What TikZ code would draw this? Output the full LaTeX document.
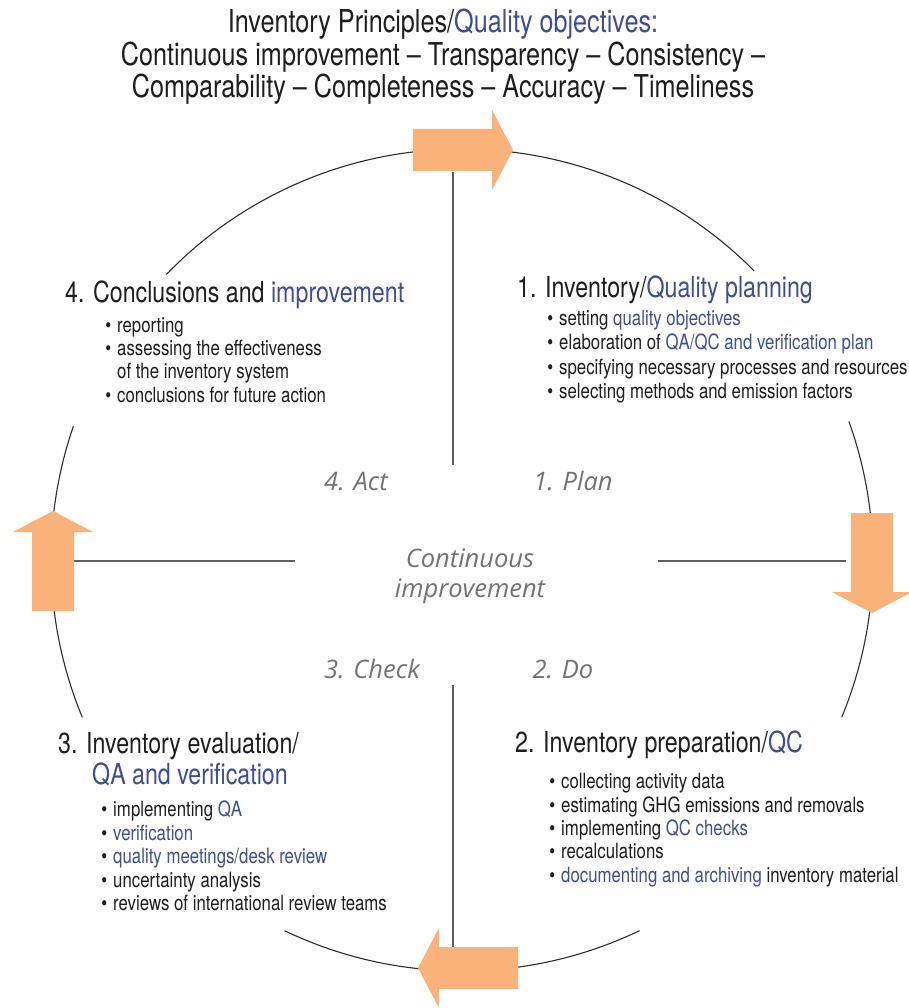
\documentclass[tikz,border=0pt]{standalone}
\usepackage{fontspec}
\setmainfont{TeX Gyre Heros}[FakeStretch=0.8]
\newfontfamily\stagefont{Open Sans}
\usetikzlibrary{positioning}

\definecolor{qblue}{RGB}{62,78,150}
\definecolor{ink}{RGB}{30,30,30}
\definecolor{stagegray}{RGB}{115,115,115}
\definecolor{arroworange}{RGB}{249,178,122}
\definecolor{ringgray}{RGB}{45,45,45}
\definecolor{crossgray}{RGB}{95,95,95}

\newcommand{\hl}[1]{{\color{qblue}#1}}
\newcommand{\bul}{\llap{\textbullet\hspace{6pt}}}

\begin{document}
\begin{tikzpicture}[
  x=1pt, y=1pt,
  title/.style={font=\fontsize{31.5}{32.5}\selectfont, text=ink, align=center, inner sep=0pt},
  heading/.style={font=\fontsize{29}{31}\selectfont, text=ink, anchor=base west, inner sep=0pt},
  item/.style={font=\fontsize{21}{24}\selectfont, text=ink, anchor=base west, inner sep=0pt},
  stage/.style={font=\stagefont\itshape\fontsize{25.5}{30}\selectfont, text=stagegray, inner sep=0pt},
  ring/.style={draw=ringgray, line width=1.1pt},
  cross/.style={draw=crossgray, line width=1.2pt},
  cyclearrow/.style={fill=arroworange}
]
\fill[white] (0,0) rectangle (909,-1008);
\useasboundingbox (0,0) rectangle (909,-1008);
\coordinate (c) at (462,-560);

% circle, broken where the texts sit
\foreach \a/\b in {44.7/136, 161/202.5, 244.4/295.6, -22.5/19.7}
  \draw[ring] (c) ++(\a:411) arc[start angle=\a, end angle=\b, radius=411];

% cross
\draw[cross] (453,-172) -- (453,-465);
\draw[cross] (453,-685) -- (453,-947);
\draw[cross] (74,-561) -- (295,-561);
\draw[cross] (658,-561) -- (846,-561);

% arrows on the circle
\foreach \tx/\ty/\rot in {513/150/0, 872/613/-90, 418/968/180, 53/511/90}
  \fill[cyclearrow, shift={(\tx,-\ty)}, rotate=\rot]
    (-100,-21) -- (-21,-21) -- (-21,-40) -- (0,0) -- (-21,40) -- (-21,21) -- (-100,21) -- cycle;

% title
\node[title] (principles) at (443,-57)
  {Inventory Principles/\hl{Quality objectives:}\\
   Continuous improvement -- Transparency -- Consistency --\\
   Comparability -- Completeness -- Accuracy -- Timeliness};

% 1. plan
\node[heading] (plan) at (517,-297) {1. Inventory/\hl{Quality planning}};
\foreach \y/\txt [count=\i] in {325/{\bul setting \hl{quality objectives}},
    349/{\bul elaboration of \hl{QA/QC and verification plan}},
    374/{\bul specifying necessary processes and resources},
    398/{\bul selecting methods and emission factors}}
  \node[item] (plan-\i) at (559,-\y) {\txt};

% 2. do
\node[heading] (do) at (515,-752) {2. Inventory preparation/\hl{QC}};
\foreach \y/\txt [count=\i] in {788/{\bul collecting activity data},
    812/{\bul estimating GHG emissions and removals},
    835/{\bul implementing \hl{QC checks}},
    858/{\bul recalculations},
    882/{\bul \hl{documenting and archiving} inventory material}}
  \node[item] (do-\i) at (561,-\y) {\txt};

% 3. check
\node[heading] (check) at (58,-753) {3. Inventory evaluation/};
\node[heading] (check-b) at (92,-784) {\hl{QA and verification}};
\foreach \y/\txt [count=\i] in {816/{\bul implementing \hl{QA}},
    840/{\bul \hl{verification}},
    863/{\bul \hl{quality meetings/desk review}},
    887/{\bul uncertainty analysis},
    910/{\bul reviews of international review teams}}
  \node[item] (check-\i) at (113,-\y) {\txt};

% 4. act
\node[heading] (act) at (65,-302) {4. Conclusions and \hl{improvement}};
\foreach \y/\txt [count=\i] in {332/{\bul reporting},
    355/{\bul assessing the effectiveness},
    378/{of the inventory system},
    402/{\bul conclusions for future action}}
  \node[item] (act-\i) at (117,-\y) {\txt};

% cycle stages
\node[stage, anchor=base] (s-act) at (356,-490) {4. Act};
\node[stage, anchor=base] (s-plan) at (573,-490) {1. Plan};
\node[stage, anchor=base] (s-check) at (372,-678) {3. Check};
\node[stage, anchor=base] (s-do) at (563,-678) {2. Do};
\node[stage, align=center] (centre) at (470,-576) {Continuous\\improvement};
\end{tikzpicture}
\end{document}
